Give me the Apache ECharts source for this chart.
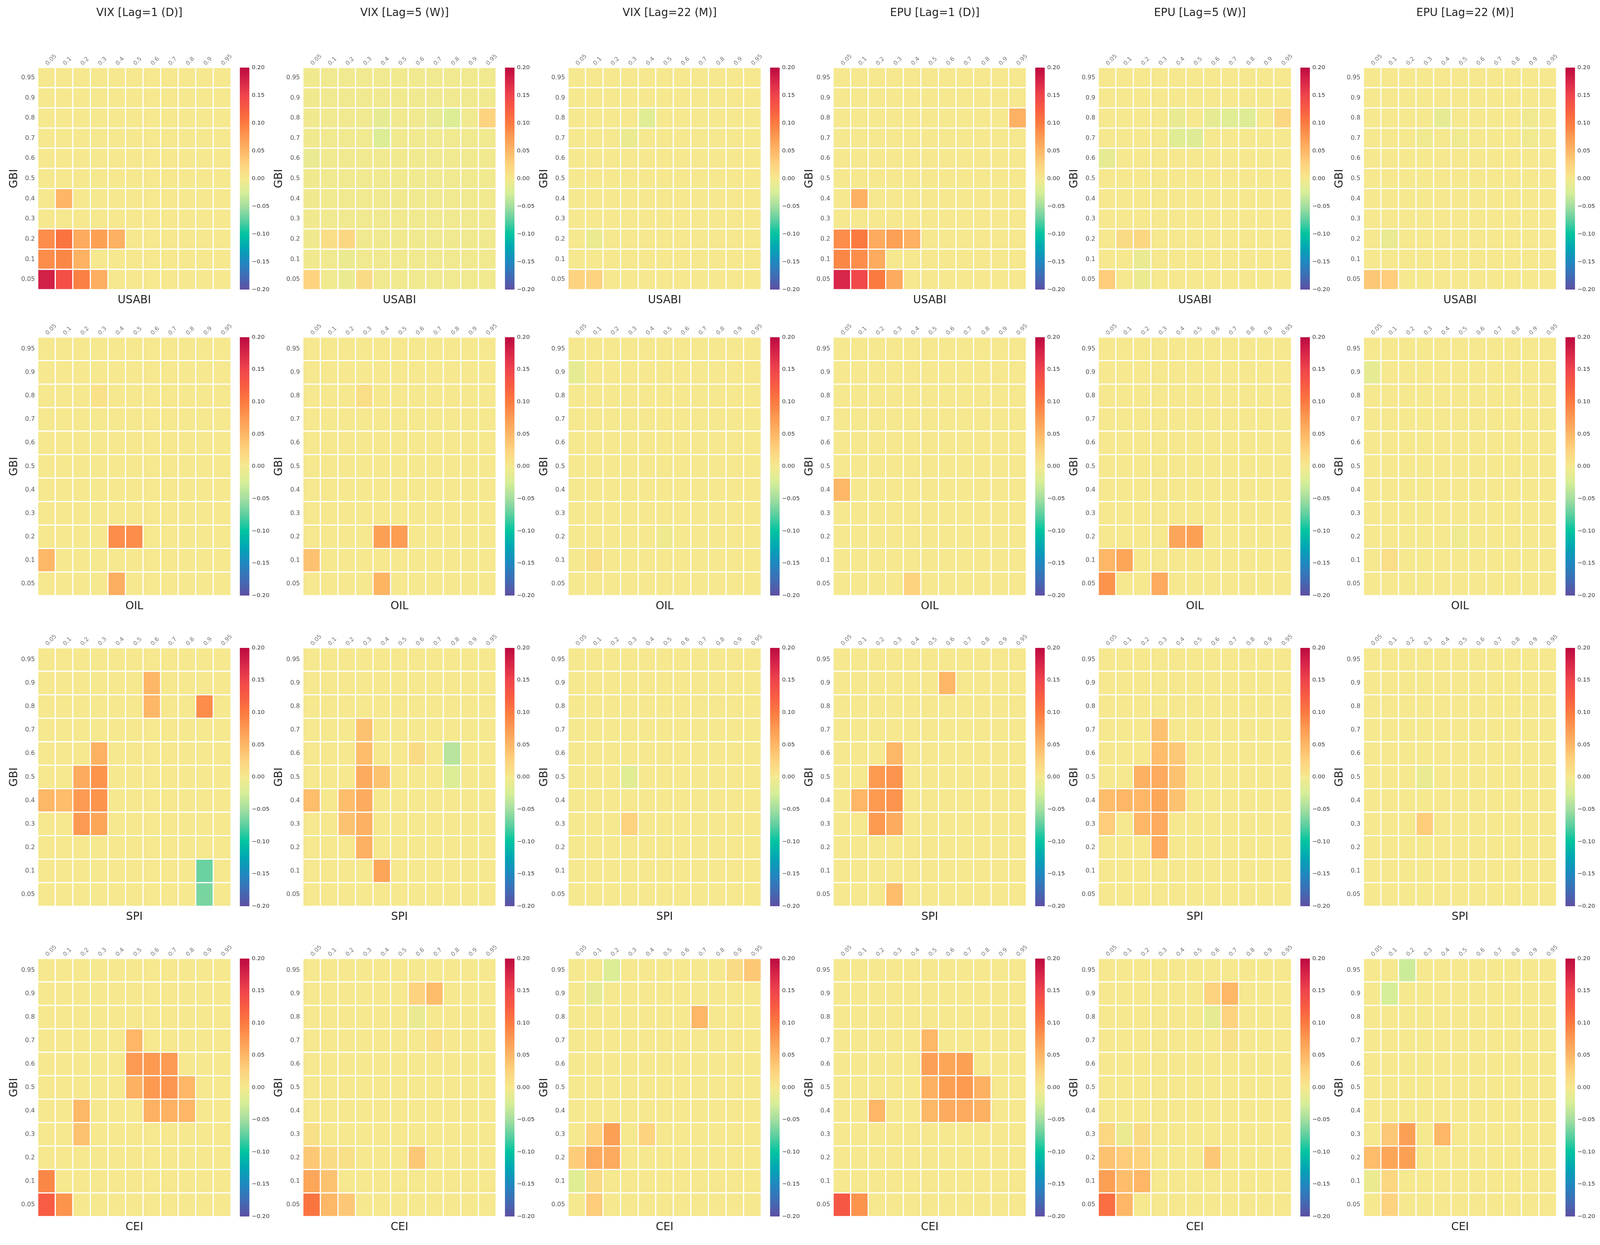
<!DOCTYPE html>
<html>
<head>
<meta charset="utf-8">
<script src="https://cdn.jsdelivr.net/npm/echarts@6/dist/echarts.min.js"></script>
<style>html,body{margin:0;padding:0;background:#fff;overflow:hidden}#chart{width:100vw;height:100vh}</style>
</head>
<body>
<div id="chart"></div>
<script>
// ---------------- DATA ----------------
const quantiles = ['0.05','0.1','0.2','0.3','0.4','0.5','0.6','0.7','0.8','0.9','0.95'];
const colTitles = ['VIX [Lag=1 (D)]','VIX [Lag=5 (W)]','VIX [Lag=22 (M)]','EPU [Lag=1 (D)]','EPU [Lag=5 (W)]','EPU [Lag=22 (M)]'];
const rowVars = ['USABI','OIL','SPI','CEI'];
const yName = 'GBI';
const colorbarRange = [-0.2, 0.2];
const colorbarTickStep = 0.05;
// rows listed top (GBI 0.95) to bottom (GBI 0.05); columns 0.05 ... 0.95
const vix1_usabi = [
[0,0,0,0,0,0,0,0,0,0,0],
[0,0,0,0,0,0,0,0,0,0,0],
[0,0,0,0,0,0,0,0,0,0,0],
[0,0,0,0,0,0,0,0,0,0,0],
[0,0,0,0,0,0,0,0,0,0,0],
[0,0,0,0,0,0,0,0,0,0,0],
[0,0.05,0,0,0,0,0,0,0,0,0],
[0,0,0,0,0,0,0,0,0,0,0],
[0.085,0.105,0.06,0.07,0.055,0,0,0,0,0,0],
[0.085,0.09,0.055,0,0,0,0,0,0,0,0],
[0.18,0.14,0.095,0.058,0,0,0,0,0,0,0]];
const vix5_usabi = [
[-0.003,-0.003,-0.003,-0.003,-0.003,-0.003,-0.003,-0.003,-0.003,-0.003,-0.003],
[-0.003,-0.003,-0.003,-0.003,-0.003,-0.003,-0.003,-0.003,-0.003,-0.003,-0.003],
[-0.003,-0.003,-0.003,-0.003,-0.012,-0.003,-0.003,-0.01,-0.02,-0.003,0.025],
[-0.003,-0.003,-0.003,-0.003,-0.02,-0.003,-0.003,-0.003,-0.003,-0.003,-0.003],
[-0.01,-0.003,-0.003,-0.003,-0.003,-0.003,-0.003,-0.003,-0.003,-0.003,-0.003],
[-0.003,-0.003,-0.003,-0.003,-0.003,-0.003,-0.003,-0.003,-0.003,-0.003,-0.003],
[-0.003,-0.003,-0.003,-0.003,-0.003,-0.003,-0.003,-0.003,-0.003,-0.003,-0.003],
[-0.003,-0.003,-0.003,-0.003,-0.003,-0.003,-0.003,-0.003,-0.003,-0.003,-0.003],
[-0.003,0.012,0.02,-0.003,-0.003,-0.003,-0.003,-0.003,-0.003,-0.003,-0.003],
[-0.003,-0.003,-0.008,-0.003,-0.003,-0.003,-0.003,-0.003,-0.003,-0.003,-0.003],
[0.025,-0.003,-0.007,0.015,-0.003,-0.003,-0.003,-0.003,-0.003,-0.003,-0.003]];
const vix22_usabi = [
[0,0,0,0,0,0,0,0,0,0,0],
[0,0,0,0,0,0,0,0,0,0,0],
[0,0,0,0,-0.015,0,0,0,0,0,0],
[0,0,0,-0.008,0,0,0,0,0,0,0],
[0,0,0,0,0,0,0,0,0,0,0],
[0,0,0,0,0,0,0,0,0,0,0],
[0,0,0,0,0,0,0,0,0,0,0],
[0,0,0,0,0,0,0,0,0,0,0],
[0,-0.008,0,0,0,0,0,0,0,0,0],
[0,0,0,0,0,0,0,0,0,0,0],
[0.025,0.025,0,0,0,0,0,0,0,0,0]];
const epu1_usabi = [
[0,0,0,0,0,0,0,0,0,0,0],
[0,0,0,0,0,0,0,0,0,0,0],
[0,0,0,0,0,0,0,0,0,0,0.055],
[0,0,0,0,0,0,0,0,0,0,0],
[0,0,0,0,0,0,0,0,0,0,0],
[0,0,0,0,0,0,0,0,0,0,0],
[0,0.055,0,0,0,0,0,0,0,0,0],
[0,0,0,0,0,0,0,0,0,0,0],
[0.085,0.1,0.06,0.07,0.055,0,0,0,0,0,0],
[0.09,0.085,0.06,0,0,0,0,0,0,0,0],
[0.175,0.145,0.1,0.06,0,0,0,0,0,0,0]];
const epu5_usabi = [
[0,0,0,0,0,0,0,0,0,0,0],
[0,0,0,0,0,0,0,0,0,0,0],
[0,0,0,0,-0.01,0,-0.012,-0.015,-0.018,0,0.02],
[0,0,0,0,-0.015,-0.018,0,0,0,0,0],
[-0.012,0,0,0,0,0,0,0,0,0,0],
[0,0,0,0,0,0,0,0,0,0,0],
[0,0,0,0,0,0,0,0,0,0,0],
[0,0,0,0,0,0,0,0,0,0,0],
[0,0.015,0.02,0,0,0,0,0,0,0,0],
[0,0,-0.01,0,0,0,0,0,0,0,0],
[0.03,0,-0.008,0,0,0,0,0,0,0,0]];
const epu22_usabi = [
[0,0,0,0,0,0,0,0,0,0,0],
[0,0,0,0,0,0,0,0,0,0,0],
[0,0,0,0,-0.012,0,0,0,0,-0.004,0],
[0,0,0,-0.005,0,-0.005,0,0,0,-0.004,0],
[0,0,0,0,0,0,0,0,0,0,0],
[0,0,0,0,0,0,0,0,0,0,0],
[0,0,0,0,0,0,0,0,0,0,0],
[0,0,0,0,0,0,0,0,0,0,0],
[0,-0.01,0,0,0,0,0,0,0,0,0],
[0,0,0,0,0,0,0,0,0,0,0],
[0.035,0.03,0,0,0,0,0,0,0,0,0]];
const vix1_oil = [
[0,0,0,0,0,0,0,0,0,0,0],
[0,0,0,0,0,0,0,0,0,0,0],
[0,0,0,0.008,0,0,0,0,0,0,0],
[0,0,0,0,0,0,0,0,0,0,0],
[0,0,0,0,0,0,0,0,0,0,0],
[0,0,0,0,0,0,0,0,0,0,0],
[0,0,0,0,0,0,0,0,0,0,0],
[0,0,0,0,0,0,0,0,0,0,0],
[0,0,0,0,0.085,0.085,0,0,0,0,0],
[0.05,0,0,0,0,0,0,0,0,0,0],
[0,0,0,0,0.058,0,0,0,0,0,0]];
const vix5_oil = [
[0,0,0,0,0,0,0,0,0,0,0],
[0,0,0,0,0,0,0,0,0,0,0],
[0,0,0,0.012,0,0,0,0,0,0,0],
[0,0,0,0,0,0,0,0,0,0,0],
[0,0,0,0,0,0,0,0,0,0,0],
[0,0,0,0,0,0,0,0,0,0,0],
[0,0,0,0,0,0,0,0,0,0,0],
[0,0,0,0,0,0,0,0,0,0,0],
[0,0,0,0,0.07,0.072,0,0,0,0,0],
[0.04,0,0,0,0,0,0,0,0,0,0],
[0,0,0,0,0.052,0,0,0,0,0,0]];
const vix22_oil = [
[0,0,0,0,0,0,0,0,0,0,0],
[-0.012,0,0,0,0,0,0,0,0,0,0],
[0,0,0,0,0,0,0,0,0,0,0],
[0,0,0,0,0,0,0,0,0,0,0],
[0,0,0,0,0,0,0,0,0,0,0],
[0,0,0,0,0,0,0,0,0,0,0],
[0,0,0,0,0,0,0,0,0,0,0],
[0,0,0,0,0,0,0,0,0,0,0],
[0,0,0,0,0,-0.005,0,0,0,0,0],
[0,0.01,0,0,0,0,0,0,0,0,0],
[0,0,0,0,0,0,0,0,0,0,0]];
const epu1_oil = [
[0,0,0,0,0,0,0,0,0,0,0],
[0,0,0,0,0,0,0,0,0,0,0],
[0,0,0,0,0,0,0,0,0,0,0],
[0,0,0,0,0,0,0,0,0,0,0],
[0,0,0,0,0,0,0,0,0,0,0],
[0,0,0,0,0,0,0,0,0,0,0],
[0.05,0,0,0,0,0,0,0,0,0,0],
[0,0,0,0,0,0,0,0,0,0,0],
[0,0,0,0,0,0,0,0,0,0,0],
[0,0,0,0,0,0,0,0,0,0,0],
[0,0,0,0,0.025,0,0,0,0,0,0]];
const epu5_oil = [
[0,0,0,0,0,0,0,0,0,0,0],
[0,0,0,0,0,0,0,0,0,0,0],
[0,0,0,0,0,0,0,0,0,0,0],
[0,0,0,0,0,0,0,0,0,0,0],
[0,0,0,0,0,0,0,0,0,0,0],
[0,0,0,0,0,0,0,0,0,0,0],
[0,0,0,0,0,0,0,0,0,0,0],
[0,0,0,0,0,0,0,0,0,0,0],
[0,0,0,0,0.065,0.07,0,0,0,0,0],
[0.05,0.065,0,0,0,0,0,0,0,0,0],
[0.08,0,0,0.06,0,0,0,0,0,0,0]];
const epu22_oil = [
[0,0,0,0,0,0,0,0,0,0,0],
[-0.012,0,0,0,0,0,0,0,0,0,0],
[0,0,0,0,0,0,0,0,0,0,0],
[0,0,0,0,0,0,0,0,0,0,0],
[0,0,0,0,0,0,0,0,0,0,0],
[0,0,0,0,0,0,0,0,0,0,0],
[0,0,0,0,0,0,0,0,0,0,0],
[0,0,0,0,0,0,0,0,0,0,0],
[0,0,0,0,0,-0.005,0,0,0,0,0],
[0,0.012,0,0,0,0,0,0,0,0,0],
[0,0,0,0,0,0,0,0,0,0,0]];
const vix1_spi = [
[0,0,0,0,0,0,0,0,0,0,0],
[0,0,0,0,0,0,0.05,0,0,0,0],
[0,0,0,0,0,0,0.05,0,0,0.085,0],
[0,0,0,0,0,0,0,0,0,0,0],
[0,0,0,0.055,0,0,0,0,0,0,0],
[0,0,0.06,0.08,0,0,0,0,0,0,0],
[0.05,0.045,0.075,0.08,0,0,0,0,0,0,0],
[0,0,0.075,0.065,0,0,0,0,0,0,0],
[0,0,0,0,0,0,0,0,0,0,0],
[0,0,0,0,0,0,0,0,0,-0.07,0],
[0,0,0,0,0,0,0,0,0,-0.065,0]];
const vix5_spi = [
[0,0,0,0,0,0,0,0,0,0,0],
[0,0,0,0,0,0,0,0,0,0,0],
[0,0,0,0,0,0,0,0,0,0,0],
[0,0,0,0.04,0,0,0,0,0,0,0],
[0,0,0,0.045,0,0,0.015,0,-0.04,0,0],
[0,0,0,0.06,0.04,0,0,0,-0.02,0,0],
[0.045,0,0.045,0.06,0,0,0,0,0,0,0],
[0,0,0.04,0.055,0,0,0,0,0,0,0],
[0,0,0,0.055,0,0,0,0,0,0,0],
[0,0,0,0,0.065,0,0,0,0,0,0],
[0,0,0,0,0,0,0,0,0,0,0]];
const vix22_spi = [
[0,0,0,0,0,0,0,0,0,0,0],
[0,0,0,0,0,0,0,0,0,0,0],
[0,0,0,0,0,0,0,0,0,0,0],
[0,0,0,0,0,0,0,0,0,0,0],
[0,0,0,0,0,0,0,0,0,0,0],
[0,0,0,-0.015,0,0,0,0,0,0,0],
[0,0,0,0,0,0,0,0,0,0,0],
[0,0,0,0.025,0,0,0,0,0,0,0],
[0,0,0,0,0,0,0,0,0,0,0],
[0,0,0,0,0,0,0,0,0,0,0],
[0,0,0,0,0,0,0,0,0,0,0]];
const epu1_spi = [
[0,0,0,0,0,0,0,0,0,0,0],
[0,0,0,0,0,0,0.05,0,0,0,0],
[0,0,0,0,0,0,0,0,0,0,0],
[0,0,0,0,0,0,0,0,0,0,0],
[0,0,0,0.05,0,0,0,0,0,0,0],
[0,0,0.075,0.08,0,0,0,0,0,0,0],
[0,0.05,0.075,0.08,0,0,0,0,0,0,0],
[0,0,0.075,0.06,0,0,0,0,0,0,0],
[0,0,0,0,0,0,0,0,0,0,0],
[0,0,0,0,0,0,0,0,0,0,0],
[0,0,0,0.045,0,0,0,0,0,0,0]];
const epu5_spi = [
[0,0,0,0,0,0,0,0,0,0,0],
[0,0,0,0,0,0,0,0,0,0,0],
[0,0,0,0,0,0,0,0,0,0,0],
[0,0,0,0.04,0,0,0,0,0,0,0],
[0,0,0,0.045,0.035,0,0,0,0,0,0],
[0,0,0.055,0.06,0.04,0,0,0,0,0,0],
[0.045,0.05,0.05,0.065,0.04,0,0,0,0,0,0],
[0.03,0,0.05,0.06,0,0,0,0,0,0,0],
[0,0,0,0.06,0,0,0,0,0,0,0],
[0,0,0,0,0,0,0,0,0,0,0],
[0,0,0,0,0,0,0,0,0,0,0]];
const epu22_spi = [
[0,0,0,0,0,0,0,0,0,0,0],
[0,0,0,0,0,0,0,0,0,0,0],
[0,0,0,0,0,0,0,0,0,0,0],
[0,0,0,0,0,0,0,0,0,0,0],
[0,0,0,0,0,0,0,0,0,0,0],
[0,0,0,-0.01,0,0,0,0,0,0,0],
[0,0,0,0,0,0,0,0,0,0,0],
[0,0,0,0.03,0,0,0,0,0,0,0],
[0,0,0,0,0,0,0,0,0,0,0],
[0,0,0,0,0,0,0,0,0,0,0],
[0,0,0,0,0,0,0,0,0,0,0]];
const vix1_cei = [
[0,0,0,0,0,0,0,0,0,0,0],
[0,0,0,0,0,0,0,0,0,0,0],
[0,0,0,0,0,0,0,0,0,0,0],
[0,0,0,0,0,0.05,0,0,0,0,0],
[0,0,0,0,0,0.075,0.075,0.075,0,0,0],
[0,0,0,0,0,0.055,0.075,0.078,0.05,0,0],
[0,0,0.05,0,0,0,0.055,0.055,0.05,0,0],
[0,0,0.04,0,0,0,0,0,0,0,0],
[0,0,0,0,0,0,0,0,0,0,0],
[0.09,0,0,0,0,0,0,0,0,0,0],
[0.125,0.08,0,0,0,0,0,0,0,0,0]];
const vix5_cei = [
[0,0,0,0,0,0,0,0,0,0,0],
[0,0,0,0,0,0,0.025,0.045,0,0,0],
[0,0,0,0,0,0,-0.01,0,0,0,0],
[0,0,0,0,0,0,0,0.008,0,0,0],
[0,0,0,0,0,0,0,0,0,0,0],
[0,0,0,0,0,0,0,0,0,0,0],
[0,0,0,0,0,0,0,0,0,0,0],
[0.01,0,0,0,0,0,0,0,0,0,0],
[0.035,0.015,0.01,0,0,0,0.035,0,0,0,0],
[0.065,0.04,0,0,0,0,0,0,0,0,0],
[0.105,0.05,0.035,0,0,0,0,0,0,0,0]];
const vix22_cei = [
[0,0,-0.02,0,0,0,0,0,0,0.015,0.035],
[0,-0.012,0,0,0,0,0,0,0,0,0],
[0,0,0,0,0,0,0,0.05,0,0,0],
[0,0,0,0,0,0,0,0,0,0,0],
[0,0,0,0,0,0,0,0,0,0,0],
[0,0,0,0,0,0,0,0,0,0,0],
[0,0,0,0,0,0,0,0,0,0,0],
[0,0.025,0.07,0,0.025,0,0,0,0,0,0],
[0.03,0.06,0.06,0,0,0,0,0,0,0,0],
[-0.015,0.015,0,0,0,0,0,0,0,0,0],
[0,0.03,0,0,0,0,0,0,0,0,0]];
const epu1_cei = [
[0,0,0,0,0,0,0,0,0,0,0],
[0,0,0,0,0,0,0,0,0,0,0],
[0,0,0,0,0,0,0,0,0,0,0],
[0,0,0,0,0,0.05,0,0,0,0,0],
[0,0,0,0,0,0.07,0.065,0.07,0,0,0],
[0,0,0,0,0,0.055,0.07,0.075,0.055,0,0],
[0,0,0.05,0,0,0.05,0.06,0.06,0.055,0,0],
[0,0,0,0,0,0,0,0,0,0,0],
[0,0,0,0,0,0,0,0,0,0,0],
[0,0,0,0,0,0,0,0,0,0,0],
[0.13,0.08,0,0,0,0,0,0,0,0,0]];
const epu5_cei = [
[0,0,0,0,0,0,0,0,0,0,0],
[0,0,0,0,0,0,0.025,0.05,0,0,0],
[0,0,0,0,0,0,-0.012,0.025,0,0,0],
[0,0,0,0,0,0,0,0.01,0,0,0],
[0,0,0,0,0,0,0,0,0,0,0],
[0,0,0,0,0,0,0,0,0,0,0],
[0,0,0,0,0,0,0,0,0,0,0],
[0.02,-0.008,0.015,0,0,0,0,0,0,0,0],
[0.04,0.03,0.025,0,0,0,0.035,0,0,0,0],
[0.07,0.045,0.05,0,0,0,0,0,0,0,0],
[0.11,0.05,0,0,0,0,0,0,0,0,0]];
const epu22_cei = [
[0,0,-0.03,0,0,0,0,0,0,0,0],
[0,-0.025,0,0,0,0,0,0,0,0,0],
[0,0,0,0,0,0,0,0,0,0,0],
[0,0,0,0,0,0,0,0,0,0,0],
[0,0,0,0,0,0,0,0,0,0,0],
[0,0,0,0,0,0,0,0,0,0,0],
[0,0,0,0,0,0,0,0,0,0,0],
[0,0.035,0.07,0,0.05,0,0,0,0,0,0],
[0.045,0.065,0.07,0,0,0,0,0,0,0,0],
[-0.008,0.02,0,0,0,0,0,0,0,0,0],
[0,0.025,0,0,0,0,0,0,0,0,0]];

const panelMatrices = [
  [vix1_usabi, vix5_usabi, vix22_usabi, epu1_usabi, epu5_usabi, epu22_usabi],
  [vix1_oil, vix5_oil, vix22_oil, epu1_oil, epu5_oil, epu22_oil],
  [vix1_spi, vix5_spi, vix22_spi, epu1_spi, epu5_spi, epu22_spi],
  [vix1_cei, vix5_cei, vix22_cei, epu1_cei, epu5_cei, epu22_cei]
];

// ---------------- STYLE / LAYOUT ----------------
const cmap = ['#5e4fa2','#3f6db5','#1f88c0','#00a6b4','#00c4a0','#5ccfa0','#a4dea0','#d6ee98',
              '#f5e88e',
              '#fdd37f','#fdb766','#fc9a52','#fb7a40','#f85c42','#ef444c','#d82649','#bb0a40'];
const FONT = 'DejaVu Sans';
const el = document.getElementById('chart');
const W = el.clientWidth || window.innerWidth, H = el.clientHeight || window.innerHeight;
// layout below is designed for a 5377 x 3186 canvas; map it onto the actual viewport
const SX = W / 5377, SY = H / 3186, SF = Math.sqrt(SX * SY);
const px = v => v * SX, py = v => v * SY, pf = v => v * SF;
const colLeft0 = 127, colStep = 891;
const rowTop = [173, 863, 1658, 2453];
const rowH = [568, 661, 661, 660];
const HM_W = 649, CB_OFF = 679, CB_W = 32;

const mid = (cmap.length - 1) / 2;
const posStops = [], negStops = [];
for (let k = 0; k <= mid; k++) {
  posStops.push({offset: k / mid, color: cmap[cmap.length - 1 - k]});
  negStops.push({offset: k / mid, color: cmap[mid - k]});
}

const grids = [], xAxes = [], yAxes = [], series = [], titles = [];
const heatIdx = [];
const fmt = v => (v < -1e-9 ? '\u2212' : '') + Math.abs(v).toFixed(2);

for (let i = 0; i < 4; i++) {
  for (let j = 0; j < 6; j++) {
    const left = colLeft0 + colStep * j;
    const gi = grids.length;
    grids.push({left: px(left), top: py(rowTop[i]), width: px(HM_W), height: py(rowH[i])});
    grids.push({left: px(left + CB_OFF), top: py(rowTop[i]), width: px(CB_W), height: py(rowH[i])});
    xAxes.push({
      type: 'category', gridIndex: gi, data: quantiles, position: 'top',
      axisLine: {show: false}, axisTick: {show: false}, splitLine: {show: false},
      axisLabel: {rotate: -45, fontSize: pf(17), color: '#777', margin: py(8), fontFamily: FONT, interval: 0}
    });
    yAxes.push({
      type: 'category', gridIndex: gi, data: quantiles,
      axisLine: {show: false}, axisTick: {show: false}, splitLine: {show: false},
      axisLabel: {fontSize: pf(18), color: '#555', margin: px(10), fontFamily: FONT, interval: 0},
      name: yName, nameLocation: 'middle', nameGap: px(58), nameRotate: 90,
      nameTextStyle: {fontSize: pf(32), color: '#222', fontFamily: FONT}
    });
    xAxes.push({type: 'category', gridIndex: gi + 1, data: [''], show: false});
    yAxes.push({
      type: 'value', gridIndex: gi + 1, position: 'right',
      min: colorbarRange[0], max: colorbarRange[1], interval: colorbarTickStep,
      axisLine: {show: false}, axisTick: {show: false}, splitLine: {show: false},
      axisLabel: {fontSize: pf(17), color: '#333', margin: px(8), fontFamily: FONT, formatter: fmt}
    });
    const m = panelMatrices[i][j];
    const data = [];
    for (let r = 0; r < m.length; r++)
      for (let c = 0; c < m[r].length; c++)
        data.push([c, m.length - 1 - r, m[r][c]]);
    heatIdx.push(series.length);
    series.push({
      type: 'heatmap', xAxisIndex: gi, yAxisIndex: gi, data: data,
      itemStyle: {borderColor: '#ffffff', borderWidth: pf(3.5)},
      emphasis: {disabled: true}, silent: true, progressive: 0
    });
    series.push({
      type: 'bar', xAxisIndex: gi + 1, yAxisIndex: gi + 1, data: [colorbarRange[1]],
      barWidth: '100%', barGap: '-100%', silent: true,
      itemStyle: {color: {type: 'linear', x: 0, y: 0, x2: 0, y2: 1, colorStops: posStops}}
    });
    series.push({
      type: 'bar', xAxisIndex: gi + 1, yAxisIndex: gi + 1, data: [colorbarRange[0]],
      barWidth: '100%', barGap: '-100%', silent: true,
      itemStyle: {color: {type: 'linear', x: 0, y: 0, x2: 0, y2: 1, colorStops: negStops}}
    });
    titles.push({
      text: rowVars[i], left: px(left + HM_W / 2), top: py(rowTop[i] + rowH[i] + 14),
      textAlign: 'center', padding: 0,
      textStyle: {fontSize: pf(32), fontWeight: 'normal', color: '#222', fontFamily: FONT}
    });
  }
}
for (let j = 0; j < 6; j++) {
  titles.push({
    text: colTitles[j], left: px(colLeft0 + colStep * j + HM_W / 2 + 17), top: py(20),
    textAlign: 'center', padding: 0,
    textStyle: {fontSize: pf(32), fontWeight: 'normal', color: '#222', fontFamily: FONT}
  });
}

const chart = echarts.init(el, null, {renderer: 'canvas'});
chart.setOption({
  backgroundColor: '#ffffff',
  animation: false,
  textStyle: {fontFamily: FONT},
  title: titles,
  grid: grids,
  xAxis: xAxes,
  yAxis: yAxes,
  visualMap: {
    type: 'continuous', show: false, min: colorbarRange[0], max: colorbarRange[1],
    seriesIndex: heatIdx, inRange: {color: cmap}
  },
  series: series
});
</script>
</body>
</html>
